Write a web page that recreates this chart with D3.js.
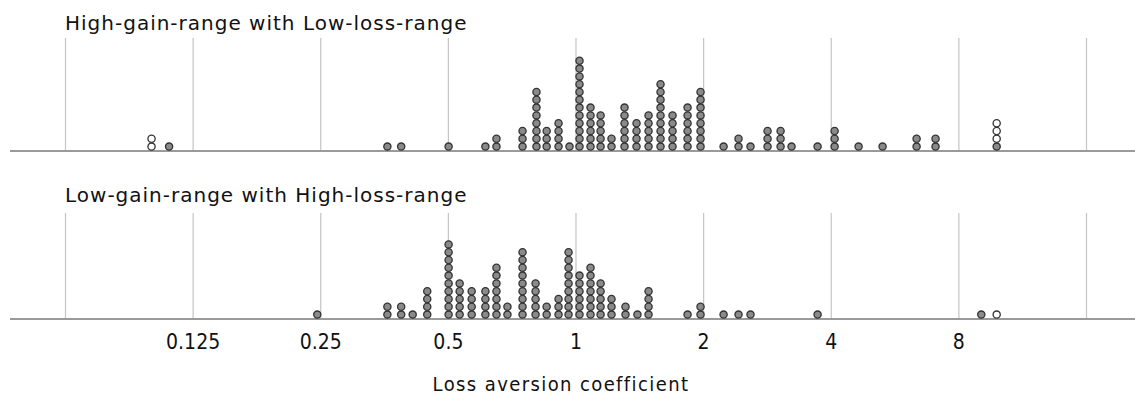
<!DOCTYPE html>
<html>
<head>
<meta charset="utf-8">
<script src="https://cdn.jsdelivr.net/npm/d3@7"></script>
<style>
  body { margin: 0; background: #fff; }
  svg { display: block; }
</style>
</head>
<body>
<div id="chart"></div>
<script>
// Dot plot of loss aversion coefficients (log2 axis), two conditions.
// Each column = one bin; filled dots stacked first, hollow (open) dots on top.

const gridValues = [1 / 16, 0.125, 0.25, 0.5, 1, 2, 4, 8, 16];
const tickValues = [0.125, 0.25, 0.5, 1, 2, 4, 8];
const tickLabels = ['0.125', '0.25', '0.5', '1', '2', '4', '8'];

const panelTitles = ['High-gain-range with Low-loss-range', 'Low-gain-range with High-loss-range'];

// High-gain-range with Low-loss-range
const topValues = [0.100, 0.110, 0.360, 0.388, 0.502, 0.613, 0.651, 0.750, 0.809, 0.855, 0.912, 0.968,
  1.022, 1.085, 1.146, 1.216, 1.305, 1.393, 1.487, 1.587, 1.694, 1.838, 1.972, 2.235, 2.424, 2.587,
  2.838, 3.046, 3.233, 3.724, 4.085, 4.653, 5.300, 6.376, 7.067, 9.85];
const topFilled = [0, 1, 1, 1, 1, 1, 2, 3, 8, 3, 4, 1,
  12, 6, 5, 2, 6, 4, 5, 9, 5, 6, 8, 1, 2, 1,
  3, 3, 1, 1, 3, 1, 1, 2, 2, 1];
const topHollow = [2, 0, 0, 0, 0, 0, 0, 0, 0, 0, 0, 0,
  0, 0, 0, 0, 0, 0, 0, 0, 0, 0, 0, 0, 0, 0,
  0, 0, 0, 0, 0, 0, 0, 0, 0, 3];

// Low-gain-range with High-loss-range
const bottomValues = [0.246, 0.360, 0.388, 0.413, 0.447, 0.502, 0.533, 0.569, 0.613, 0.651, 0.691, 0.750,
  0.805, 0.855, 0.912, 0.963, 1.022, 1.085, 1.146, 1.216, 1.312, 1.400, 1.487, 1.838, 1.972, 2.235,
  2.424, 2.587, 3.724, 9.06, 9.85];
const bottomFilled = [1, 2, 2, 1, 4, 10, 5, 4, 4, 7, 2, 9,
  5, 2, 3, 9, 6, 7, 5, 3, 2, 1, 4, 1, 2, 1,
  1, 1, 1, 1, 0];
const bottomHollow = [0, 0, 0, 0, 0, 0, 0, 0, 0, 0, 0, 0,
  0, 0, 0, 0, 0, 0, 0, 0, 0, 0, 0, 0, 0, 0,
  0, 0, 0, 0, 1];

const W = 1135, H = 396;
const svg = d3.select('#chart').append('svg').attr('width', W).attr('height', H);

const x = d3.scaleLog().base(2).domain([1 / 16, 16]).range([65, 1086]);

const dotR = 3.6;
const step = 7.8;
const dotFill = '#8a8a8a';
const dotStroke = '#333';
const fontTitle = '"DejaVu Sans", "Noto Sans", sans-serif';
const fontAxis = '"DejaVu Sans Condensed", "Roboto", sans-serif';

const panels = [
  { title: panelTitles[0], values: topValues, filled: topFilled, hollow: topHollow, titleY: 30, gridTop: 38, base: 151 },
  { title: panelTitles[1], values: bottomValues, filled: bottomFilled, hollow: bottomHollow, titleY: 202, gridTop: 213, base: 319 }
];

panels.forEach(p => {
  const g = svg.append('g');

  // vertical gridlines
  g.append('g')
    .attr('transform', `translate(0,${p.base})`)
    .call(d3.axisBottom(x).tickValues(gridValues).tickSize(-(p.base - p.gridTop)).tickFormat(''))
    .call(s => s.select('.domain').remove())
    .selectAll('line')
    .attr('stroke', '#c4c4c4')
    .attr('stroke-width', 1.2);

  // baseline
  g.append('line')
    .attr('x1', 10).attr('x2', W)
    .attr('y1', p.base).attr('y2', p.base)
    .attr('stroke', '#9a9a9a')
    .attr('stroke-width', 2);

  g.append('text')
    .attr('x', 65)
    .attr('y', p.titleY)
    .attr('font-family', fontTitle)
    .attr('font-size', '20px')
    .attr('letter-spacing', '1px')
    .attr('fill', '#111')
    .text(p.title);

  // expand columns into individual dots
  const dots = [];
  p.values.forEach((v, i) => {
    const nf = p.filled[i], nh = p.hollow[i];
    for (let k = 0; k < nf + nh; k++) {
      dots.push({ v, k, open: k >= nf });
    }
  });

  g.selectAll('circle')
    .data(dots)
    .enter()
    .append('circle')
    .attr('cx', d => x(d.v))
    .attr('cy', d => p.base - 4.4 - d.k * step)
    .attr('r', dotR)
    .attr('fill', d => d.open ? '#fff' : dotFill)
    .attr('stroke', dotStroke)
    .attr('stroke-width', 1.3);
});

// x axis labels
const axisG = svg.append('g')
  .attr('transform', 'translate(0,328)')
  .call(d3.axisBottom(x).tickValues(tickValues).tickSize(0).tickPadding(6)
    .tickFormat((d, i) => tickLabels[i]));
axisG.select('.domain').remove();
axisG.selectAll('text')
  .attr('font-family', fontAxis)
  .attr('font-size', '21px')
  .attr('fill', '#111');

svg.append('text')
  .attr('x', 561)
  .attr('y', 391)
  .attr('text-anchor', 'middle')
  .attr('font-family', fontAxis)
  .attr('font-size', '20px')
  .attr('letter-spacing', '1.4px')
  .attr('fill', '#111')
  .text('Loss aversion coefficient');
</script>
</body>
</html>
